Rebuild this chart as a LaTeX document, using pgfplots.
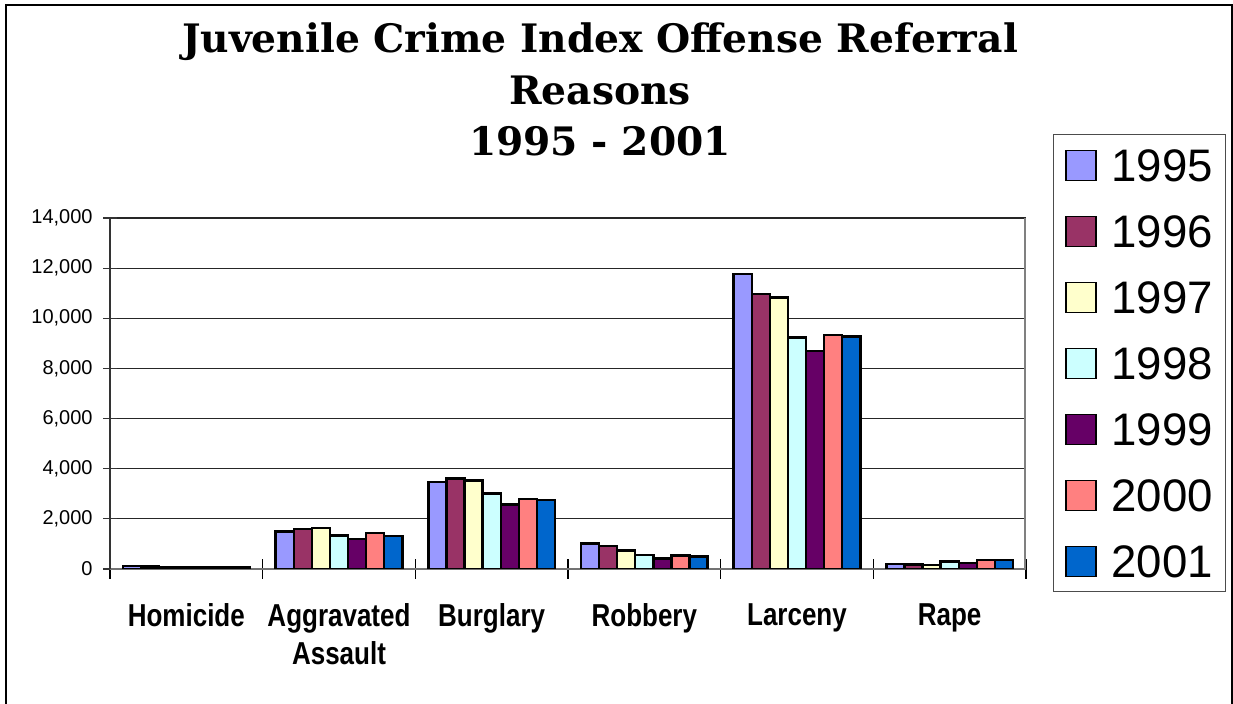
\documentclass[border=0pt]{standalone}
\usepackage{pgfplots}
\pgfplotsset{compat=1.18}
\usepackage{fontspec}
\setmainfont{Liberation Sans}
\newfontfamily\titlefont{DejaVu Serif}
\newfontfamily\catfont{Liberation Sans}[FakeStretch=0.82]
\definecolor{cA}{HTML}{9999FF}
\definecolor{cB}{HTML}{993366}
\definecolor{cC}{HTML}{FFFFCC}
\definecolor{cD}{HTML}{CCFFFF}
\definecolor{cE}{HTML}{660066}
\definecolor{cF}{HTML}{FF8080}
\definecolor{cG}{HTML}{0066CC}
\begin{document}
\begin{tikzpicture}
\useasboundingbox (0,0) rectangle (616.5pt,352pt);
\fill[white] (0,0) rectangle (616.5pt,352pt);
\draw[line width=0.6pt] (3pt,-5pt) rectangle (616pt,349.5pt);
\node[font=\titlefont\bfseries\fontsize{19.6}{23}\selectfont, anchor=base, inner sep=0pt] at (300pt,325.5pt) {Juvenile Crime Index Offense Referral};
\node[font=\titlefont\bfseries\fontsize{19.6}{23}\selectfont, anchor=base, inner sep=0pt] at (300pt,299.8pt) {Reasons};
\node[font=\titlefont\bfseries\fontsize{19.6}{23}\selectfont, anchor=base, inner sep=0pt] at (300pt,274.3pt) {1995 - 2001};
\begin{axis}[
  at={(55pt,67.5pt)}, anchor=south west,
  scale only axis, width=458pt, height=175.5pt,
  xmin=-0.5, xmax=5.5, ymin=0, ymax=14000,
  ybar=0pt, bar width=0.1185,
  axis x line*=bottom, axis y line*=left,
  x axis line style={draw=black!55, line width=1.2pt},
  y axis line style={draw=black!80, line width=0.8pt},
  ymajorgrids, major grid style={draw=black!85, line width=0.6pt},
  ytick={0,2000,...,14000},
  scaled y ticks=false,
  /pgf/number format/.cd, 1000 sep={,}, assume math mode=true, /pgfplots/.cd,
  yticklabel style={font=\fontsize{10}{12}\selectfont, inner sep=0pt, xshift=-5pt},
  xtick={0,...,5},
  xticklabels={Homicide,{Aggravated\\Assault},Burglary,Robbery,Larceny,Rape},
  xticklabel style={font=\catfont\bfseries\fontsize{15.85}{19}\selectfont, align=center, anchor=north, inner sep=0pt, yshift=-13.8pt},
  minor xtick={-0.5,0.5,...,5.5},
  tick align=center,
  major tick length=7pt, minor tick length=10pt,
  every major x tick/.style={draw=none},
  every minor x tick/.style={draw=black, line width=0.6pt},
  every major y tick/.style={draw=black!80, line width=0.6pt},
  every axis plot/.append style={draw=black, line width=1.2pt},
  every axis plot post/.append style={
    /pgfplots/legend image code/.code={\draw[##1, line width=0.7pt] (0pt,-8pt) rectangle (15pt,7pt);}},
  legend cell align=left,
  legend style={at={(axis description cs:1.0292,1.2393)}, anchor=north west,
    draw=black!70, line width=0.5pt, inner xsep=6pt, inner ysep=7pt,
    font=\fontsize{22.8}{22.8}\selectfont, row sep=16.5pt, column sep=7.5pt,
    nodes={inner sep=0pt, text height=16.3pt, text depth=0pt}},
]
\addplot[fill=cA] coordinates {(0,130) (1,1494) (2,3466) (3,1015) (4,11760) (5,190)};
\addplot[fill=cB] coordinates {(0,100) (1,1604) (2,3610) (3,910) (4,10960) (5,180)};
\addplot[fill=cC] coordinates {(0,80) (1,1645) (2,3530) (3,735) (4,10830) (5,160)};
\addplot[fill=cD] coordinates {(0,90) (1,1331) (2,3010) (3,560) (4,9230) (5,300)};
\addplot[fill=cE] coordinates {(0,90) (1,1196) (2,2580) (3,415) (4,8690) (5,230)};
\addplot[fill=cF] coordinates {(0,70) (1,1441) (2,2800) (3,535) (4,9330) (5,360)};
\addplot[fill=cG] coordinates {(0,60) (1,1318) (2,2755) (3,495) (4,9270) (5,370)};
\legend{1995,1996,1997,1998,1999,2000,2001}
\draw[black!50, line width=1.5pt] (rel axis cs:1,0) -- (rel axis cs:1,1);
\end{axis}
\end{tikzpicture}
\end{document}
